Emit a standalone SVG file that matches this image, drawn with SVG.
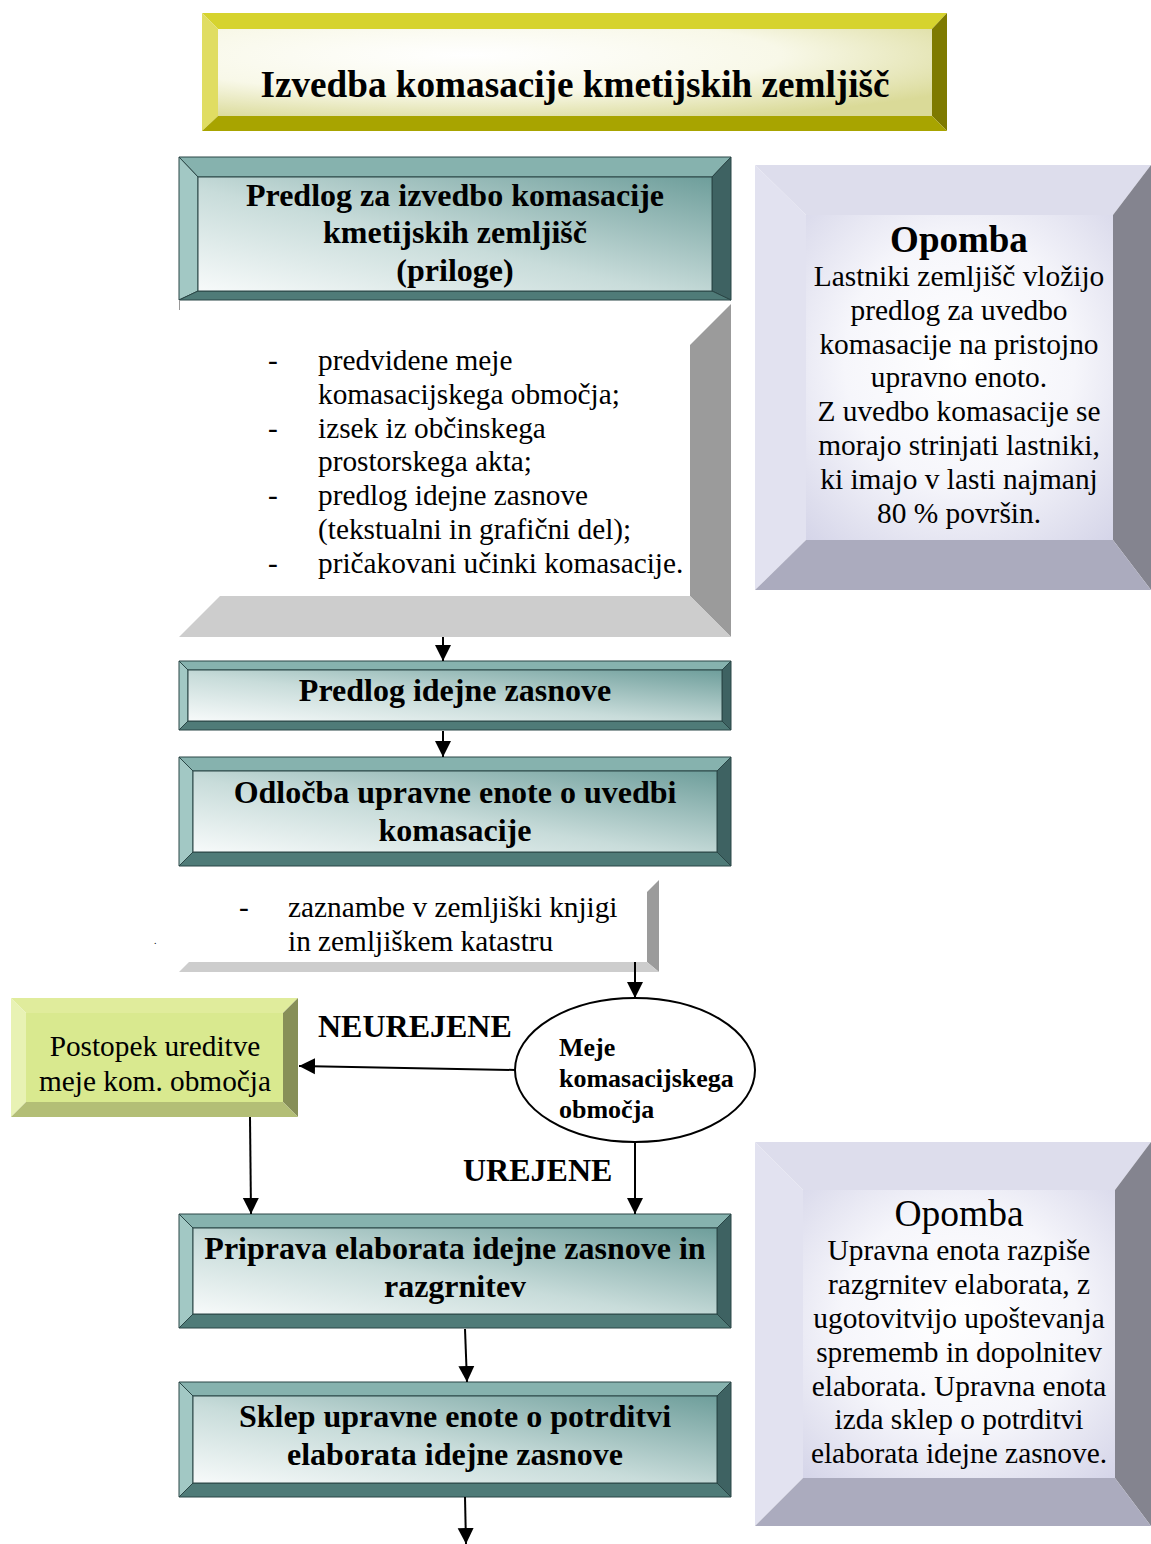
<svg xmlns="http://www.w3.org/2000/svg" width="1151" height="1544" viewBox="0 0 1151 1544">
<style>
.t{font-family:"Liberation Serif","Times New Roman",serif;fill:#000}
.b{font-weight:bold}
.tt{font-size:37.2px;font-weight:bold}
.h{font-size:32px;font-weight:bold}
.r{font-size:29.3px}
.o{font-size:29.4px}
.tl1{fill:#86B2AE}.tl2{fill:#A2C8C4}.tl3{fill:#3E6262}.tl4{fill:#4F7B78}
.tb polygon,.tb rect{stroke:#2A4646;stroke-width:1}
.y1{fill:#D6D32E}.y2{fill:#E0DD62}.y3{fill:#7E7A00}.y4{fill:#A8A400}
.l1{fill:#DDDDEC}.l2{fill:#E2E2F0}.l3{fill:#84848F}.l4{fill:#ABABBE}
.g1{fill:#E0EC9C}.g2{fill:#E8F2B4}.g3{fill:#878F58}.g4{fill:#B3BE76}
.c{stroke:#000;stroke-width:2;fill:none}
</style>
<defs>
<linearGradient id="tg" x1="0" y1="1" x2="1" y2="0">
<stop offset="0" stop-color="#F7FAFA"/><stop offset="0.45" stop-color="#C8DCDA"/><stop offset="1" stop-color="#6E9E9B"/>
</linearGradient>
<radialGradient id="yg" cx="0.35" cy="0.3" r="0.8">
<stop offset="0" stop-color="#FFFFFF"/><stop offset="0.55" stop-color="#F8F8E8"/><stop offset="1" stop-color="#DADA98"/>
</radialGradient>
<radialGradient id="lg" cx="0.5" cy="0.45" r="0.75">
<stop offset="0" stop-color="#FFFFFF"/><stop offset="0.5" stop-color="#F6F6FB"/><stop offset="1" stop-color="#D4D4E8"/>
</radialGradient>
<marker id="ah" markerUnits="userSpaceOnUse" markerWidth="16" markerHeight="18" viewBox="0 0 16 18" refX="16" refY="9" orient="auto">
<path d="M0,1 L16,9 L0,17 Z" fill="#000"/>
</marker>
</defs>

<g id="title">
<polygon class="y1" points="202,13 947,13 932,29 218,29"/>
<polygon class="y2" points="202,13 218,29 218,116 202,131"/>
<polygon class="y3" points="947,13 947,131 932,116 932,29"/>
<polygon class="y4" points="202,131 947,131 932,116 218,116"/>
<rect x="218" y="29" width="714" height="87" fill="url(#yg)"/>
<text class="t tt" x="575" y="97" text-anchor="middle">Izvedba komasacije kmetijskih zemljišč</text>
</g>

<g id="predlog" class="tb">
<polygon class="tl1" points="179,157 731,157 712,177 198,177"/>
<polygon class="tl2" points="179,157 198,177 198,291 179,300"/>
<polygon class="tl3" points="731,157 731,300 712,291 712,177"/>
<polygon class="tl4" points="179,300 731,300 712,291 198,291"/>
<rect x="198" y="177" width="514" height="114" fill="url(#tg)"/>
<text class="t h" x="455" y="206" text-anchor="middle">Predlog za izvedbo komasacije</text>
<text class="t h" x="455" y="243" text-anchor="middle">kmetijskih zemljišč</text>
<text class="t h" x="455" y="281" text-anchor="middle">(priloge)</text>
</g>

<g id="priloge">
<rect x="179" y="301" width="552" height="336" fill="#FFFFFF"/>
<polygon fill="#9B9B9B" points="731,304 731,637 690,596 690,345"/>
<polygon fill="#CDCDCD" points="179,637 731,637 690,596 220,596"/>
<line x1="179.5" y1="300" x2="179.5" y2="310" stroke="#999" stroke-width="1"/>
<text class="t r" x="268" y="370">-</text>
<text class="t r" x="318" y="370">predvidene meje</text>
<text class="t r" x="318" y="404">komasacijskega območja;</text>
<text class="t r" x="268" y="438">-</text>
<text class="t r" x="318" y="438">izsek iz občinskega</text>
<text class="t r" x="318" y="471">prostorskega akta;</text>
<text class="t r" x="268" y="505">-</text>
<text class="t r" x="318" y="505">predlog idejne zasnove</text>
<text class="t r" x="318" y="539">(tekstualni in grafični del);</text>
<text class="t r" x="268" y="573">-</text>
<text class="t r" x="318" y="573">pričakovani učinki komasacije.</text>
</g>

<g id="opomba1">
<polygon class="l1" points="755,165 1151,165 1113,215 806,215"/>
<polygon class="l2" points="755,165 806,215 806,540 755,590"/>
<polygon class="l3" points="1151,165 1151,590 1113,540 1113,215"/>
<polygon class="l4" points="755,590 1151,590 1113,540 806,540"/>
<rect x="806" y="215" width="307" height="325" fill="url(#lg)"/>
<text class="t b" x="959" y="252" text-anchor="middle" font-size="37">Opomba</text>
<text class="t o" x="959" y="286" text-anchor="middle">Lastniki zemljišč vložijo</text>
<text class="t o" x="959" y="320" text-anchor="middle">predlog za uvedbo</text>
<text class="t o" x="959" y="354" text-anchor="middle">komasacije na pristojno</text>
<text class="t o" x="959" y="387" text-anchor="middle">upravno enoto.</text>
<text class="t o" x="959" y="421" text-anchor="middle">Z uvedbo komasacije se</text>
<text class="t o" x="959" y="455" text-anchor="middle">morajo strinjati lastniki,</text>
<text class="t o" x="959" y="489" text-anchor="middle">ki imajo v lasti najmanj</text>
<text class="t o" x="959" y="523" text-anchor="middle">80 % površin.</text>
</g>

<g id="idejna" class="tb">
<polygon class="tl1" points="179,661 731,661 722,670 188,670"/>
<polygon class="tl2" points="179,661 188,670 188,721 179,730"/>
<polygon class="tl3" points="731,661 731,730 722,721 722,670"/>
<polygon class="tl4" points="179,730 731,730 722,721 188,721"/>
<rect x="188" y="670" width="534" height="51" fill="url(#tg)"/>
<text class="t h" x="455" y="701" text-anchor="middle">Predlog idejne zasnove</text>
</g>

<g id="odlocba" class="tb">
<polygon class="tl1" points="179,757 731,757 717,771 193,771"/>
<polygon class="tl2" points="179,757 193,771 193,852 179,866"/>
<polygon class="tl3" points="731,757 731,866 717,852 717,771"/>
<polygon class="tl4" points="179,866 731,866 717,852 193,852"/>
<rect x="193" y="771" width="524" height="81" fill="url(#tg)"/>
<text class="t h" x="455" y="803" text-anchor="middle">Odločba upravne enote o uvedbi</text>
<text class="t h" x="455" y="841" text-anchor="middle">komasacije</text>
</g>

<g id="zaznambe">
<polygon fill="#9B9B9B" points="659,880 659,972 647,962 647,892"/>
<polygon fill="#CDCDCD" points="179,972 659,972 647,962 189,962"/>
<text class="t r" x="239" y="917">-</text>
<text class="t r" x="288" y="917">zaznambe v zemljiški knjigi</text>
<text class="t r" x="288" y="951">in zemljiškem katastru</text>
<text class="t" x="154" y="944" font-size="10">.</text>
</g>

<g id="meje">
<ellipse cx="635" cy="1070" rx="120" ry="72" fill="#FFFFFF" stroke="#000" stroke-width="2"/>
<text class="t b" x="559" y="1056" font-size="26">Meje</text>
<text class="t b" x="559" y="1087" font-size="26">komasacijskega</text>
<text class="t b" x="559" y="1118" font-size="26">območja</text>
</g>

<g id="ureditev">
<polygon class="g1" points="11,998 298,998 283,1013 26,1013"/>
<polygon class="g2" points="11,998 26,1013 26,1102 11,1117"/>
<polygon class="g3" points="298,998 298,1117 283,1102 283,1013"/>
<polygon class="g4" points="11,1117 298,1117 283,1102 26,1102"/>
<rect x="26" y="1013" width="257" height="89" fill="#D9E98F"/>
<text class="t r" x="155" y="1056" text-anchor="middle">Postopek ureditve</text>
<text class="t r" x="155" y="1091" text-anchor="middle">meje kom. območja</text>
</g>

<g id="labels">
<text class="t b" x="318" y="1037" font-size="32">NEUREJENE</text>
<text class="t b" x="463" y="1181" font-size="32">UREJENE</text>
</g>

<g id="priprava" class="tb">
<polygon class="tl1" points="179,1214 731,1214 717,1228 193,1228"/>
<polygon class="tl2" points="179,1214 193,1228 193,1314 179,1328"/>
<polygon class="tl3" points="731,1214 731,1328 717,1314 717,1228"/>
<polygon class="tl4" points="179,1328 731,1328 717,1314 193,1314"/>
<rect x="193" y="1228" width="524" height="86" fill="url(#tg)"/>
<text class="t h" x="455" y="1259" text-anchor="middle">Priprava elaborata idejne zasnove in</text>
<text class="t h" x="455" y="1297" text-anchor="middle">razgrnitev</text>
</g>

<g id="sklep" class="tb">
<polygon class="tl1" points="179,1382 731,1382 717,1396 193,1396"/>
<polygon class="tl2" points="179,1382 193,1396 193,1483 179,1497"/>
<polygon class="tl3" points="731,1382 731,1497 717,1483 717,1396"/>
<polygon class="tl4" points="179,1497 731,1497 717,1483 193,1483"/>
<rect x="193" y="1396" width="524" height="87" fill="url(#tg)"/>
<text class="t h" x="455" y="1427" text-anchor="middle">Sklep upravne enote o potrditvi</text>
<text class="t h" x="455" y="1465" text-anchor="middle">elaborata idejne zasnove</text>
</g>

<g id="opomba2">
<polygon class="l1" points="755,1142 1151,1142 1115,1190 803,1190"/>
<polygon class="l2" points="755,1142 803,1190 803,1478 755,1526"/>
<polygon class="l3" points="1151,1142 1151,1526 1115,1478 1115,1190"/>
<polygon class="l4" points="755,1526 1151,1526 1115,1478 803,1478"/>
<rect x="803" y="1190" width="312" height="288" fill="url(#lg)"/>
<text class="t" x="959" y="1226" text-anchor="middle" font-size="37.5">Opomba</text>
<text class="t o" x="959" y="1260" text-anchor="middle">Upravna enota razpiše</text>
<text class="t o" x="959" y="1294" text-anchor="middle">razgrnitev elaborata, z</text>
<text class="t o" x="959" y="1328" text-anchor="middle">ugotovitvijo upoštevanja</text>
<text class="t o" x="959" y="1362" text-anchor="middle">sprememb in dopolnitev</text>
<text class="t o" x="959" y="1396" text-anchor="middle">elaborata. Upravna enota</text>
<text class="t o" x="959" y="1429" text-anchor="middle">izda sklep o potrditvi</text>
<text class="t o" x="959" y="1463" text-anchor="middle">elaborata idejne zasnove.</text>
</g>

<g id="connectors">
<line class="c" x1="443" y1="637" x2="443" y2="661" marker-end="url(#ah)"/>
<line class="c" x1="443" y1="731" x2="443" y2="757" marker-end="url(#ah)"/>
<line class="c" x1="635" y1="962" x2="635" y2="998" marker-end="url(#ah)"/>
<line class="c" x1="515" y1="1070" x2="299" y2="1066" marker-end="url(#ah)"/>
<line class="c" x1="250" y1="1117" x2="251" y2="1214" marker-end="url(#ah)"/>
<line class="c" x1="635" y1="1142" x2="635" y2="1214" marker-end="url(#ah)"/>
<line class="c" x1="465" y1="1329" x2="467" y2="1382" marker-end="url(#ah)"/>
<line class="c" x1="465" y1="1497" x2="466" y2="1544" marker-end="url(#ah)"/>
</g>
</svg>
